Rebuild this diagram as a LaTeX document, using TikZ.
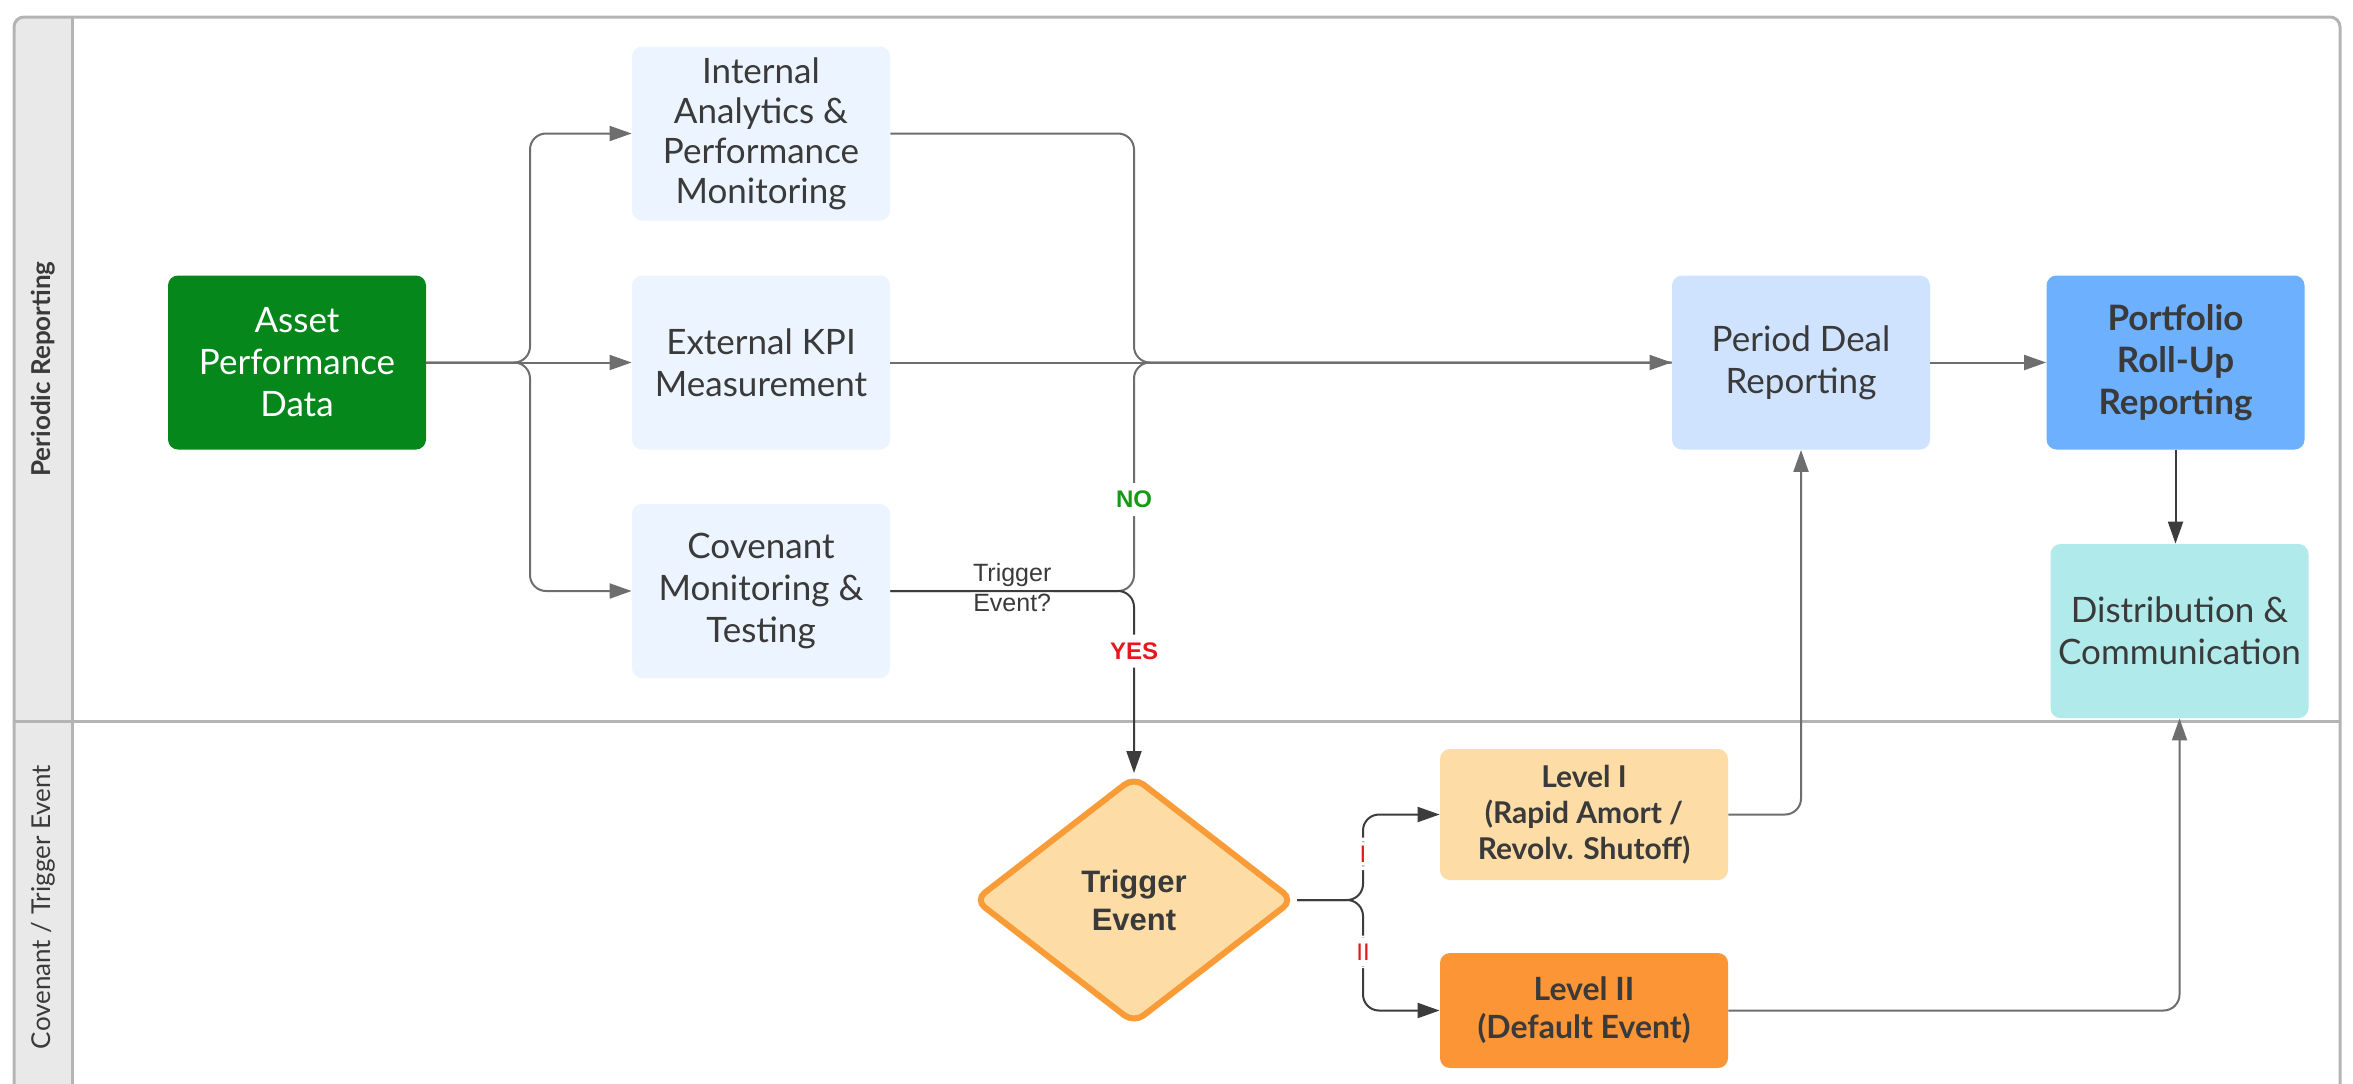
\documentclass[tikz,border=0pt]{standalone}
\usepackage{fontspec}
\setmainfont{Lato}
\newfontfamily\arialfont{Liberation Sans}
\usetikzlibrary{shapes.geometric,arrows.meta}

\definecolor{ink}{HTML}{3A3A3A}
\definecolor{wire}{HTML}{6E6E6E}
\definecolor{wiredark}{HTML}{3C3C3C}
\definecolor{poolline}{HTML}{B4B4B4}
\definecolor{headfill}{HTML}{E9E9E9}
\definecolor{assetgreen}{HTML}{06871B}
\definecolor{paleblue}{HTML}{ECF4FF}
\definecolor{softblue}{HTML}{CFE3FE}
\definecolor{midblue}{HTML}{6DB0FE}
\definecolor{aqua}{HTML}{B0EAEA}
\definecolor{peach}{HTML}{FDDCA6}
\definecolor{orangefill}{HTML}{FC9535}
\definecolor{orangeline}{HTML}{F99B36}
\definecolor{nogreen}{HTML}{159A15}
\definecolor{yesred}{HTML}{E3191F}

\tikzset{
  box/.style={rectangle, rounded corners=5pt, minimum width=129pt, minimum height=87pt,
    align=center, text=ink, inner sep=2pt, font=\fontsize{17.5}{21}\selectfont},
  lvl/.style={rectangle, rounded corners=5pt, minimum width=144pt, align=center,
    text=ink, inner sep=2pt},
  decision/.style={shape=diamond, minimum width=160pt, minimum height=124pt, inner sep=0pt,
    draw=orangeline, line width=3pt, fill=peach, rounded corners=6pt, align=center,
    text=ink, font=\arialfont\bfseries\fontsize{15.5}{19}\selectfont},
  lanetext/.style={rotate=90, text=ink, font=\fontsize{13}{15}\selectfont},
  link/.style={draw=wire, line width=1pt},
  linkdark/.style={draw=wiredark, line width=1pt},
  tip/.style={-{Triangle[length=11pt,width=7.5pt]}},
  elbow/.style={rounded corners=8pt},
  asklabel/.style={fill=white, text=ink, align=center, inner xsep=1pt, inner ysep=0pt,
    yshift=1.5pt, font=\arialfont\fontsize{12.5}{15}\selectfont},
  nolabel/.style={fill=white, text=nogreen, inner xsep=1pt, inner ysep=4pt,
    font=\arialfont\bfseries\fontsize{12}{14}\selectfont},
  yeslabel/.style={fill=white, text=yesred, inner xsep=1pt, inner ysep=4pt,
    font=\arialfont\bfseries\fontsize{12}{14}\selectfont},
  levellabel/.style={fill=white, text=yesred, inner xsep=1pt, inner ysep=4pt,
    font=\arialfont\fontsize{12}{14}\selectfont},
}

\begin{document}
\begin{tikzpicture}[x=0.5pt,y=-0.5pt]
\useasboundingbox (0,0) rectangle (2353,1083);

% swimlane pool
\begin{scope}
  \clip (0,0) rectangle (2353,1083);
  \fill[headfill, rounded corners=5pt] (14,17) rectangle (2340,1110);
  \fill[white] (72,17) rectangle (2340,1110);
  \draw[poolline, line width=1.5pt, rounded corners=5pt] (14,17) rectangle (2340,1110);
  \draw[poolline, line width=1.5pt] (72,17) -- (72,1110);
  \draw[poolline, line width=1.5pt] (14,721) -- (2340,721);
\end{scope}
\node[lanetext, font=\bfseries\fontsize{13}{15}\selectfont] (laneA) at (43,369) {Periodic Reporting};
\node[lanetext] (laneB) at (43,907) {Covenant / Trigger Event};

% process steps
\node[box, fill=assetgreen, text=white] (asset) at (297,362.5) {Asset\\Performance\\Data};
\node[box, fill=paleblue, font=\fontsize{17.5}{20}\selectfont] (intl) at (761,133.5)
  {Internal\\Analytics \&\\Performance\\Monitoring};
\node[box, fill=paleblue] (kpi) at (761,362.5) {External KPI\\Measurement};
\node[box, fill=paleblue] (cov) at (761,591) {Covenant\\Monitoring \&\\Testing};
\node[box, fill=softblue] (deal) at (1801,362.5) {Period Deal\\Reporting};
\node[box, fill=midblue, font=\bfseries\fontsize{17.5}{21}\selectfont] (roll) at (2175.5,362.5)
  {Portfolio\\Roll-Up\\Reporting};
\node[box, fill=aqua] (dist) at (2179.5,631) {Distribution \&\\Communication};

\node[decision] (trig) at (1134,900) {Trigger\\Event};
\node[lvl, fill=peach, minimum height=65.5pt, font=\bfseries\fontsize{15}{18}\selectfont]
  (lvone) at (1584,814.5) {Level I\\(Rapid Amort /\\Revolv. Shutoff)};
\node[lvl, fill=orangefill, minimum height=57.5pt, font=\bfseries\fontsize{16}{19}\selectfont]
  (lvtwo) at (1584,1010.5) {Level II\\(Default Event)};

% junction points
\coordinate (fan) at (530,362.5);
\coordinate (gate) at (1134,591);
\coordinate (fork) at (1363,900);

% data fan-out
\draw[link, elbow, tip] (asset.east) -- (fan) |- (intl.west);
\draw[link, tip] (asset.east) -- (kpi.west);
\draw[link, elbow, tip] (asset.east) -- (fan) |- (cov.west);

% into period deal reporting
\draw[link, elbow] (intl.east) -| (gate |- deal.west) -- (deal.west);
\draw[link, tip] (kpi.east) -- (deal.west);
\draw[link, elbow] (cov.east) -- node[asklabel] {Trigger\\Event?} (gate)
  -- node[pos=0.4, nolabel] {NO} (gate |- deal.west) -- (deal.west);
\draw[linkdark, elbow, tip] (cov.east) -- (gate)
  -- node[pos=0.33, yeslabel] {YES} (trig.north);

% reporting chain
\draw[link, tip] (deal.east) -- (roll.west);
\draw[linkdark, tip] (roll.south) -- (roll.south |- dist.north);

% trigger levels
\draw[linkdark, elbow, tip] (trig.east) -- (fork)
  -- node[pos=0.54, levellabel] {I} (fork |- lvone.west) -- (lvone.west);
\draw[linkdark, elbow, tip] (trig.east) -- (fork)
  -- node[pos=0.47, levellabel] {II} (fork |- lvtwo.west) -- (lvtwo.west);
\draw[link, elbow, tip] (lvone.east) -| (deal.south);
\draw[link, elbow, tip] (lvtwo.east) -| (dist.south);
\end{tikzpicture}
\end{document}
